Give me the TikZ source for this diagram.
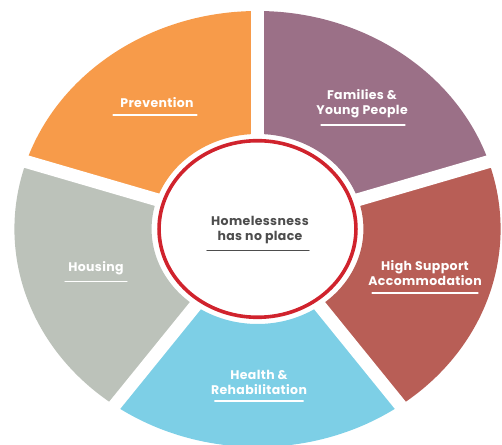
\documentclass[tikz,border=0pt]{standalone}
\usepackage{fontspec}
\setmainfont{Poppins}[LetterSpace=3]
\usepackage{xcolor}
\definecolor{prevcol}{HTML}{F79B4A}
\definecolor{famcol}{HTML}{9B7087}
\definecolor{highcol}{HTML}{B85E56}
\definecolor{healthcol}{HTML}{7DCFE6}
\definecolor{housecol}{HTML}{BCC2BA}
\definecolor{ringred}{HTML}{D0232D}
\definecolor{hubtext}{HTML}{4D4D4D}

\begin{document}
\begin{tikzpicture}[x=1pt,y=1pt,
    seg label/.style={text=white,font=\bfseries\fontsize{12.5}{15}\selectfont,align=center,inner sep=1pt},
    hub label/.style={seg label,text=hubtext},
    under/.style={draw=white,line width=1.5pt,line cap=round}]

    \useasboundingbox (0,0) rectangle (502,444);

    \begin{scope}[shift={(257.5,215)},xscale=1.115]
        \foreach \a/\c in {18/famcol,90/prevcol,162/housecol,234/healthcol,306/highcol}
            \fill[\c] (\a:218) arc[start angle=\a,delta angle=72,radius=218]
                -- ({\a+72}:95) arc[start angle=\a+72,delta angle=-72,radius=95] -- cycle;
        \foreach \a in {18,90,162,234,306}
            \draw[white,line width=13pt] (0,0) -- (\a:240);
        \draw[ringred,line width=3.6pt] (0,0) circle[radius=88.3];
    \end{scope}

    \node[seg label] (prev) at (157,341) {Prevention};
    \node[seg label] (fam) at (362,340) {Families \&\\Young People};
    \node[hub label] (hub) at (260,214) {Homelessness\\has no place};
    \node[seg label] (house) at (96,176) {Housing};
    \node[seg label] (high) at (425,170.5) {High Support\\Accommodation};
    \node[seg label] (health) at (259,62) {Health \&\\Rehabilitation};

    \draw[under] ([xshift=-6pt,yshift=-5.5pt]prev.south west) -- ([xshift=2pt,yshift=-5.5pt]prev.south east);
    \draw[under] ([xshift=6pt,yshift=-5.5pt]fam.south west) -- ([xshift=-4pt,yshift=-5.5pt]fam.south east);
    \draw[under,draw=hubtext] ([xshift=-3pt,yshift=-5.5pt]hub.south west) -- ([xshift=-1pt,yshift=-5.5pt]hub.south east);
    \draw[under] ([xshift=-2pt,yshift=-5.5pt]house.south west) -- ([xshift=2pt,yshift=-5.5pt]house.south east);
    \draw[under] ([xshift=5pt,yshift=-5.5pt]high.south west) -- ([xshift=-5pt,yshift=-5.5pt]high.south east);
    \draw[under] ([xshift=5pt,yshift=-5.5pt]health.south west) -- ([xshift=-5pt,yshift=-5.5pt]health.south east);
\end{tikzpicture}
\end{document}
